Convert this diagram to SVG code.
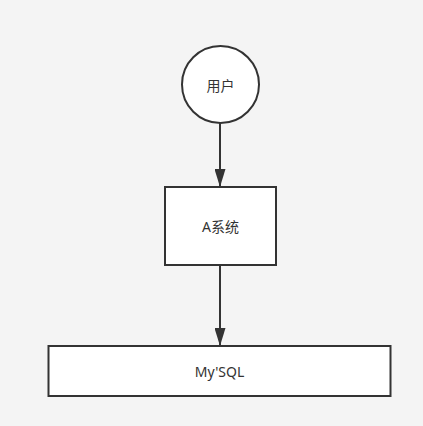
<svg xmlns="http://www.w3.org/2000/svg" width="423" height="426" viewBox="0 0 423 426">
<defs>
<style>
.node{fill:#fff;stroke:#333;stroke-width:2}
.lbl{font-family:"Noto Sans","Noto Sans CJK SC",sans-serif;font-size:14px;fill:#333;text-anchor:middle;dominant-baseline:central}
.edge{stroke:#333;stroke-width:2;fill:none}
</style>
<marker id="arr" markerUnits="userSpaceOnUse" markerWidth="18" markerHeight="11" refX="18" refY="5.5" orient="auto" viewBox="0 0 18 11">
<path d="M0,0 L18,5.5 L0,11 Z" fill="#333"/>
</marker>
</defs>
<rect width="423" height="426" fill="#f4f4f4"/>
<g id="connectors">
<path class="edge" d="M220,123 L220,187" marker-end="url(#arr)"/>
<path class="edge" d="M220,265 L220,346" marker-end="url(#arr)"/>
</g>
<g id="user">
<circle class="node" cx="220.5" cy="84.5" r="38.5"/>
<text class="lbl" x="220.5" y="85">用户</text>
</g>
<g id="asys">
<rect class="node" x="165" y="187" width="111" height="78"/>
<text class="lbl" x="220.5" y="226">A系统</text>
</g>
<g id="mysql">
<rect class="node" x="48.5" y="346" width="342" height="50"/>
<text class="lbl" x="219.5" y="371">My'SQL</text>
</g>
</svg>
